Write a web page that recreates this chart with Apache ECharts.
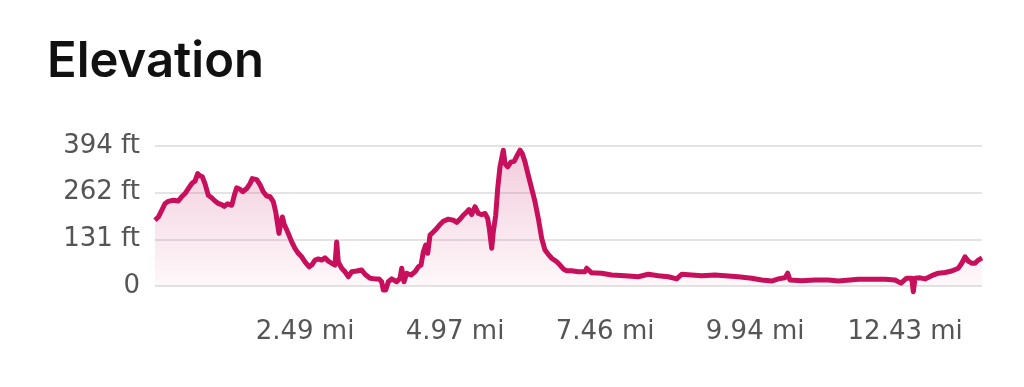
<!DOCTYPE html>
<html>
<head>
<meta charset="utf-8">
<script src="https://cdn.jsdelivr.net/npm/echarts@6/dist/echarts.min.js"></script>
<style>
html,body{margin:0;padding:0;background:#fff;}
#c{width:1024px;height:387px;}
</style>
</head>
<body>
<div id="c"></div>
<script>
// distance along the route (mi)
var distMi = [0,0.055,0.111,0.166,0.220,0.303,0.386,0.442,0.497,0.552,0.608,0.663,0.707,0.745,0.784,0.828,0.883,0.939,0.994,1.049,1.105,1.148,1.204,1.271,1.314,1.353,1.408,1.453,1.519,1.574,1.612,1.685,1.739,1.794,1.850,1.905,1.960,2.000,2.033,2.054,2.087,2.109,2.142,2.198,2.265,2.319,2.374,2.430,2.485,2.551,2.596,2.651,2.705,2.762,2.816,2.871,2.927,2.982,3.010,3.036,3.093,3.148,3.202,3.259,3.341,3.424,3.479,3.562,3.645,3.711,3.755,3.782,3.822,3.865,3.921,4.004,4.059,4.087,4.125,4.170,4.241,4.307,4.362,4.407,4.445,4.484,4.518,4.556,4.610,4.667,4.721,4.776,4.859,4.942,4.998,5.053,5.107,5.164,5.202,5.246,5.301,5.356,5.412,5.467,5.511,5.538,5.578,5.604,5.644,5.677,5.715,5.770,5.798,5.843,5.897,5.952,6.008,6.047,6.085,6.129,6.184,6.240,6.295,6.350,6.406,6.461,6.515,6.572,6.655,6.709,6.764,6.820,6.903,7.012,7.123,7.151,7.234,7.400,7.566,7.786,8.006,8.172,8.338,8.503,8.642,8.725,8.891,9.057,9.277,9.443,9.663,9.885,10.050,10.216,10.326,10.437,10.481,10.519,10.713,10.934,11.154,11.320,11.513,11.651,11.873,12.093,12.259,12.358,12.452,12.535,12.562,12.590,12.673,12.756,12.867,12.976,13.087,13.198,13.308,13.364,13.418,13.473,13.529,13.584,13.639,13.700];
// elevation (ft)
var elevFt = [185,194,213,232,238,241,239,251,260,274,288,295,316,310,307,288,255,248,239,232,229,224,231,227,255,276,272,265,274,288,302,299,285,265,253,251,237,208,171,148,179,194,173,152,124,106,92,82,68,54,59,73,76,73,79,70,64,59,124,68,50,40,26,40,42,45,33,22,20,20,12,-11,-11,12,20,12,22,50,12,36,31,40,54,59,96,115,92,143,152,162,173,182,188,185,179,188,199,208,215,201,223,204,201,204,190,162,106,152,199,274,335,382,344,335,349,351,370,382,372,349,311,274,237,190,134,101,89,78,68,59,48,43,43,40,40,50,37,36,31,29,26,33,29,26,20,33,31,29,31,29,26,22,17,14,20,23,36,17,15,17,17,14,17,19,19,19,17,8,22,22,-16,22,23,20,29,36,38,42,50,64,82,70,64,64,73,79];
var titleText = 'Elevation';
var xMaxMi = 13.7;
var xStepMi = 2.48548;   // 4 km
var yMaxFt = 393.7;
var yStepFt = 131.234;   // 40 m

var pts = distMi.map(function(d,i){ return [d, elevFt[i]]; });

var chart = echarts.init(document.getElementById('c'), null, {renderer:'canvas'});
chart.setOption({
  animation:false,
  title:{
    text:titleText, left:42, top:33,
    textStyle:{fontFamily:'Inter', fontSize:49, fontWeight:600, color:'#111'}
  },
  grid:{left:155, right:42, top:146, bottom:101},
  xAxis:{
    type:'value', min:0, max:xMaxMi, interval:xStepMi,
    axisLine:{show:false}, axisTick:{show:false}, splitLine:{show:false},
    axisLabel:{
      showMinLabel:false, showMaxLabel:false, margin:33,
      fontFamily:'DejaVu Sans', fontSize:26, color:'#555',
      formatter:function(v){ return v.toFixed(2)+' mi'; }
    }
  },
  yAxis:{
    type:'value', min:0, max:yMaxFt, interval:yStepFt,
    axisLine:{show:false}, axisTick:{show:false},
    splitLine:{lineStyle:{color:'#e4e4e4', width:2}},
    axisLabel:{
      margin:15, fontFamily:'DejaVu Sans', fontSize:26, color:'#555',
      formatter:function(v){ return v===0 ? '0' : Math.round(v)+' ft'; }
    }
  },
  series:[{
    type:'line', data:pts, showSymbol:false, clip:false,
    lineStyle:{color:'#c70f5b', width:5, join:'round'},
    areaStyle:{color:new echarts.graphic.LinearGradient(0,0,0,1,[
      {offset:0,color:'rgba(199,15,91,0.30)'},
      {offset:1,color:'rgba(199,15,91,0.03)'}
    ])}
  }]
});
</script>
</body>
</html>
